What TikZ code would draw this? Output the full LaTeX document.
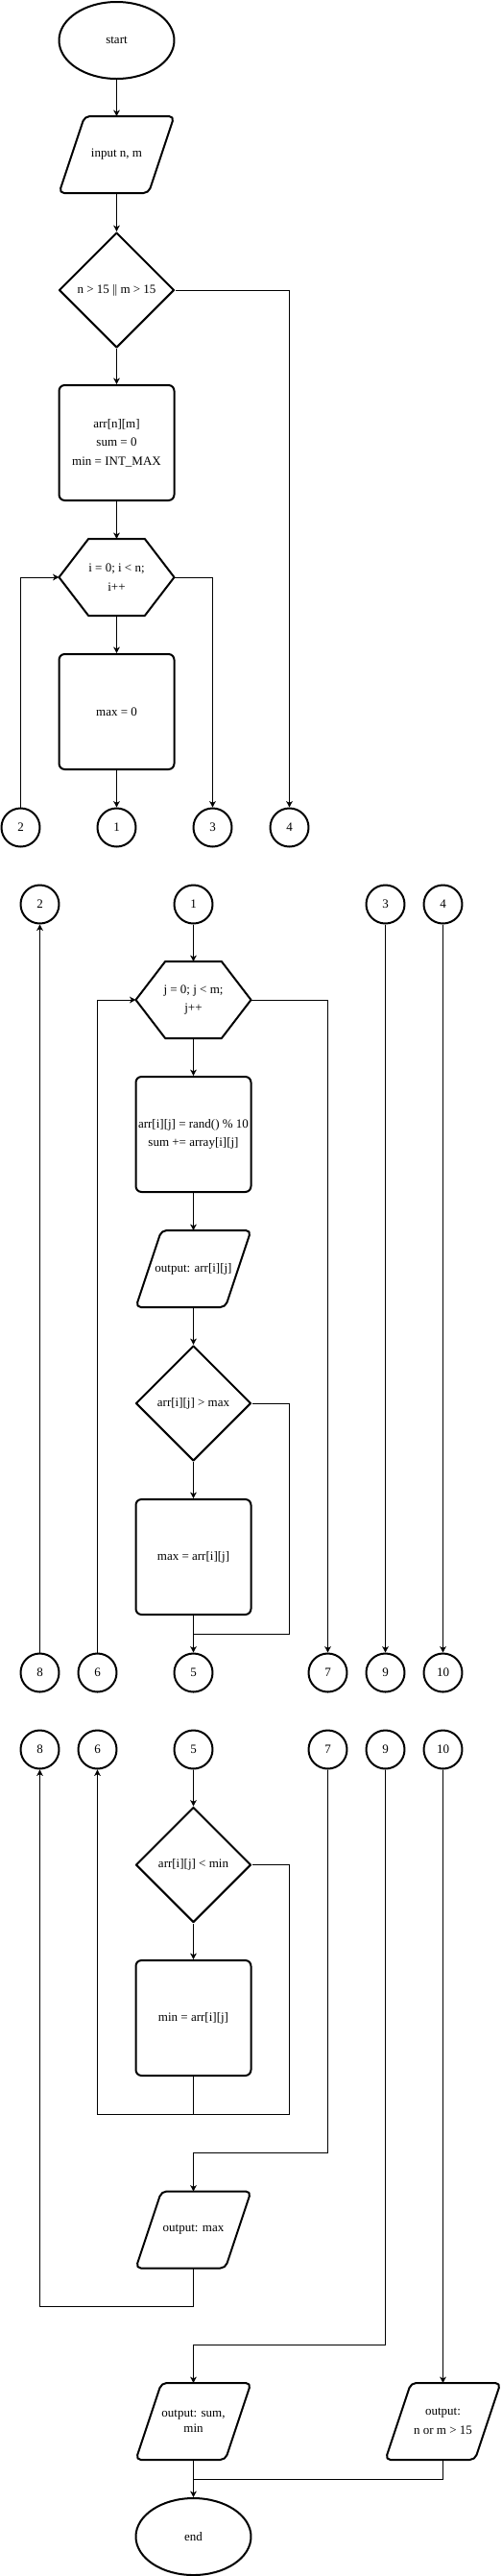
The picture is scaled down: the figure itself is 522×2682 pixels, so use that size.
\documentclass[tikz,border=0pt]{standalone}
\usepackage{fontspec}
\setmainfont{Liberation Serif}
\usetikzlibrary{shapes.geometric,arrows.meta,calc}
\newcommand\ioshape[1]{\draw[outl, rounded corners=4pt] ($(#1.north west)+(20pt,0)$) -- (#1.north east) -- ($(#1.south east)-(20pt,0)$) -- (#1.south west) -- cycle;}
\newcommand\hexshape[1]{\draw[outl] (#1.west) -- ($(#1.north west)+(23pt,0)$) -- ($(#1.north east)-(23pt,0)$) -- (#1.east) -- ($(#1.south east)-(23pt,0)$) -- ($(#1.south west)+(23pt,0)$) -- cycle;}
\begin{document}
\begin{tikzpicture}[x=0.75pt,y=-0.75pt,
  font=\fontsize{9.75pt}{14.6pt}\selectfont,
  outl/.style={line width=1.5pt, line join=round},
  flow/.style={line width=0.75pt},
  arr/.style={flow, -{Stealth[length=4.8pt,width=5pt,inset=1.3pt]}},
  term/.style={ellipse, draw, outl, minimum width=90pt, minimum height=60pt, inner sep=0pt},
  procbox/.style={rectangle, draw, outl, rounded corners=4.5pt, minimum width=90pt, minimum height=90pt, inner sep=0pt, align=center},
  decision/.style={diamond, draw, outl, minimum width=90pt, minimum height=90pt, inner sep=0pt, aspect=1, align=center},
  iobox/.style={rectangle, minimum width=90pt, minimum height=60pt, inner sep=0pt, outer sep=0pt, align=center},
  loopbox/.style={rectangle, minimum width=90pt, minimum height=60pt, inner sep=0pt, outer sep=0pt, align=center},
  conn/.style={circle, draw, outl, minimum size=30pt, inner sep=0pt},
]
\useasboundingbox (0,0) rectangle (522,2682);

% ---------- part 1
\node[term] (start) at (121.5,42) {start};
\node[iobox] (input) at (121.5,161) {input n, m}; \ioshape{input}
\node[decision] (cond1) at (121.5,302) {n > 15 || m > 15};
\node[procbox] (init) at (121.5,461) {arr[n][m]\\sum = 0\\min = INT\_MAX};
\node[loopbox] (loopi) at (121.5,601) {i = 0; i < n;\\i++}; \hexshape{loopi}
\node[procbox] (max0) at (121.5,741) {max = 0};
\node[conn] (c2a) at (21.5,861.5) {2};
\node[conn] (c1a) at (121.5,861.5) {1};
\node[conn] (c3a) at (221.5,861.5) {3};
\node[conn] (c4a) at (301.5,861.5) {4};

\draw[arr] (start.south) -- (input.north);
\draw[arr] (input.south) -- (cond1.north);
\draw[arr] (cond1.south) -- (init.north);
\draw[arr] (init.south) -- (loopi.north);
\draw[arr] (loopi.south) -- (max0.north);
\draw[arr] (max0.south) -- (c1a.north);
\draw[arr] (cond1.east) -| (c4a.north);
\draw[arr] (c2a.north) |- (loopi.west);
\draw[arr] (loopi.east) -| (c3a.north);

% ---------- part 2
\node[conn] (c2b) at (41.5,941.5) {2};
\node[conn] (c1b) at (201.5,941.5) {1};
\node[conn] (c3b) at (401.5,941.5) {3};
\node[conn] (c4b) at (461.5,941.5) {4};
\node[loopbox] (loopj) at (201.5,1041) {j = 0; j < m;\\j++}; \hexshape{loopj}
\node[procbox] (assign) at (201.5,1181) {arr[i][j] = rand() \% 10\\sum += array[i][j]};
\node[iobox] (outarr) at (201.5,1321) {output: arr[i][j]}; \ioshape{outarr}
\node[decision] (cond2) at (201.5,1461) {arr[i][j] > max};
\node[procbox] (setmax) at (201.5,1621) {max = arr[i][j]};
\node[conn] (c8a) at (41.5,1741.5) {8};
\node[conn] (c6a) at (101.5,1741.5) {6};
\node[conn] (c5a) at (201.5,1741.5) {5};
\node[conn] (c7a) at (341.5,1741.5) {7};
\node[conn] (c9a) at (401.5,1741.5) {9};
\node[conn] (c10a) at (461.5,1741.5) {10};
\coordinate (j2) at (301.5,1701);

\draw[arr] (c1b.south) -- (loopj.north);
\draw[arr] (loopj.south) -- (assign.north);
\draw[arr] (assign.south) -- (outarr.north);
\draw[arr] (outarr.south) -- (cond2.north);
\draw[arr] (cond2.south) -- (setmax.north);
\draw[arr] (setmax.south) -- (c5a.north);
\draw[flow] (cond2.east) -| (j2) -- (setmax.south |- j2);
\draw[arr] (c6a.north) |- (loopj.west);
\draw[arr] (loopj.east) -| (c7a.north);
\draw[arr] (c8a.north) -- (c2b.south);
\draw[arr] (c3b.south) -- (c9a.north);
\draw[arr] (c4b.south) -- (c10a.north);

% ---------- part 3
\node[conn] (c8b) at (41.5,1821.5) {8};
\node[conn] (c6b) at (101.5,1821.5) {6};
\node[conn] (c5b) at (201.5,1821.5) {5};
\node[conn] (c7b) at (341.5,1821.5) {7};
\node[conn] (c9b) at (401.5,1821.5) {9};
\node[conn] (c10b) at (461.5,1821.5) {10};
\node[decision] (cond3) at (201.5,1941.5) {arr[i][j] < min};
\node[procbox] (setmin) at (201.5,2101) {min = arr[i][j]};
\node[iobox] (outmax) at (201.5,2321.5) {output: max}; \ioshape{outmax}
\node[iobox, font=\fontsize{9.75pt}{11.8pt}\selectfont] (outsum) at (201.5,2521) {output: sum,\\min}; \ioshape{outsum}
\node[iobox] (outerr) at (461.5,2521) {output:\\n or m > 15}; \ioshape{outerr}
\node[term] (end) at (201.5,2641) {end};
\coordinate (j3) at (301.5,2201);
\coordinate (j3l) at (101.5,2201);
\coordinate (j4) at (201.5,2241);
\coordinate (j5) at (41.5,2401);
\coordinate (j6) at (201.5,2441);
\coordinate (j7) at (461.5,2581);

\draw[arr] (c5b.south) -- (cond3.north);
\draw[arr] (cond3.south) -- (setmin.north);
\draw[arr] (cond3.east) -| (j3) -- (j3l) -- (c6b.south);
\draw[flow] (setmin.south) -- (setmin.south |- j3);
\draw[arr] (c7b.south) |- (j4) -- (outmax.north);
\draw[arr] (outmax.south) |- (j5) -- (c8b.south);
\draw[arr] (c9b.south) |- (j6) -- (outsum.north);
\draw[arr] (c10b.south) -- (outerr.north);
\draw[arr] (outsum.south) -- (end.north);
\draw[flow] (outerr.south) -- (j7) -- (end.north |- j7);
\end{tikzpicture}
\end{document}
